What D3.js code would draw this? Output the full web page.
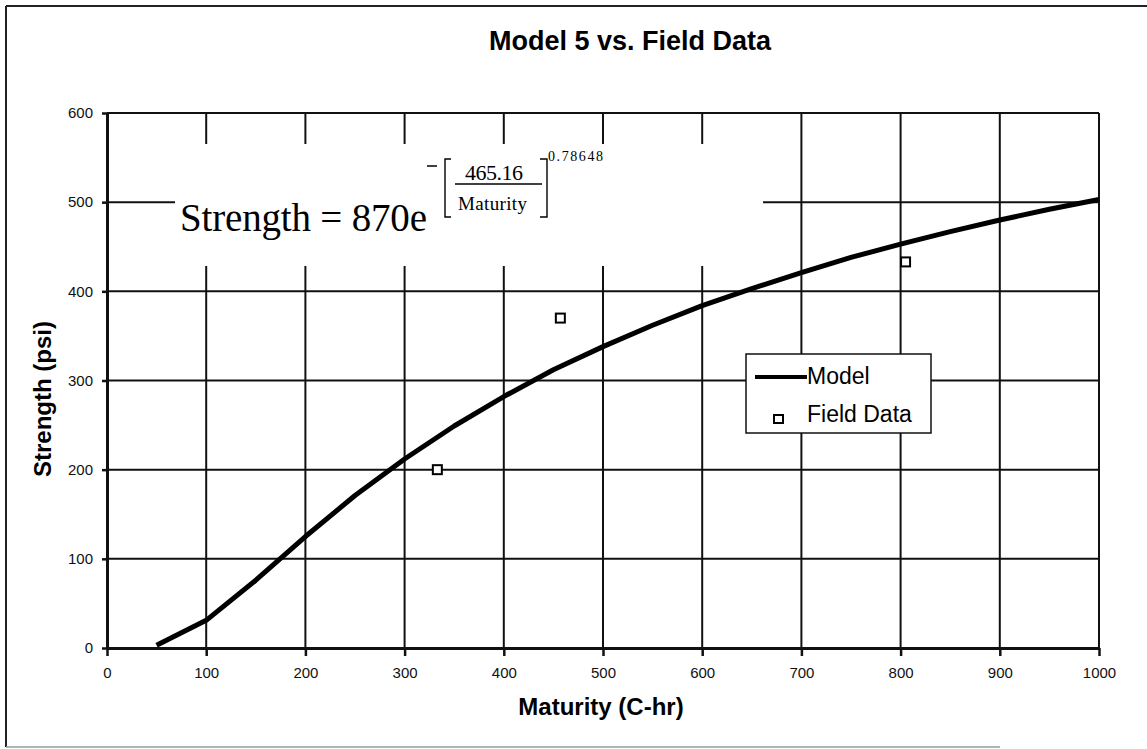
<!DOCTYPE html>
<html>
<head>
<meta charset="utf-8">
<script src="https://cdn.jsdelivr.net/npm/d3@7"></script>
<style>
  body { margin: 0; background: #fff; }
  svg { display: block; }
</style>
</head>
<body>
<div class="chart"></div>
<script>
// model curve, every 50 C-hr
var modelMaturity = [50, 100, 150, 200, 250, 300, 350, 400, 450, 500, 550, 600, 650, 700, 750, 800, 850, 900, 950, 1000];
var modelStrength = [3, 31, 76, 125, 171, 212, 249, 282, 312, 338, 362, 384, 403, 421, 438, 453, 467, 480, 492, 503];

// field measurements
var fieldMaturity = [333, 457, 805];
var fieldStrength = [200, 370, 433];

var xTicks = [0, 100, 200, 300, 400, 500, 600, 700, 800, 900, 1000];
var yTicks = [0, 100, 200, 300, 400, 500, 600];

var W = 1147, H = 749;
var plot = {left: 107, top: 113, right: 1099, bottom: 648};
var sans = `Arial, "Liberation Sans", sans-serif`;
var serif = `"Times New Roman", "Liberation Serif", serif`;

var svg = d3.select(`.chart`)
    .append(`svg`)
    .attr(`width`, W)
    .attr(`height`, H);

svg.append(`rect`).attr(`width`, W).attr(`height`, H).attr(`fill`, `#fff`);

// outer chart frame (right side is cut off in the scan)
svg.append(`line`).attr(`x1`, 6).attr(`y1`, 6).attr(`x2`, W).attr(`y2`, 6)
    .attr(`stroke`, `#222`).attr(`stroke-width`, 2);
svg.append(`line`).attr(`x1`, 6).attr(`y1`, 6).attr(`x2`, 6).attr(`y2`, 747)
    .attr(`stroke`, `#222`).attr(`stroke-width`, 2);
svg.append(`line`).attr(`x1`, 6).attr(`y1`, 747).attr(`x2`, 1000).attr(`y2`, 747)
    .attr(`stroke`, `#999`).attr(`stroke-width`, 1.5);

var x = d3.scaleLinear().domain([0, 1000]).range([plot.left, plot.right]);
var y = d3.scaleLinear().domain([0, 600]).range([plot.bottom, plot.top]);

// gridlines
svg.append(`g`)
    .selectAll(`line`)
    .data(yTicks.filter(d => d > 0))
    .enter()
    .append(`line`)
    .attr(`x1`, plot.left).attr(`x2`, plot.right)
    .attr(`y1`, d => y(d)).attr(`y2`, d => y(d))
    .attr(`stroke`, `#111`).attr(`stroke-width`, 2);

svg.append(`g`)
    .selectAll(`line`)
    .data(xTicks.filter(d => d > 0))
    .enter()
    .append(`line`)
    .attr(`y1`, plot.top).attr(`y2`, plot.bottom)
    .attr(`x1`, d => x(d)).attr(`x2`, d => x(d))
    .attr(`stroke`, `#111`).attr(`stroke-width`, 2);

// white box behind the equation
svg.append(`rect`)
    .attr(`x`, 175).attr(`y`, 144)
    .attr(`width`, 588).attr(`height`, 122)
    .attr(`fill`, `#fff`);

// axes
var xAxis = d3.axisBottom(x).tickValues(xTicks).tickFormat(d3.format(`d`))
    .tickSize(8).tickSizeOuter(0).tickPadding(11);
var yAxis = d3.axisLeft(y).tickValues(yTicks).tickFormat(d3.format(`d`))
    .tickSize(5).tickSizeOuter(0).tickPadding(9);

var gx = svg.append(`g`)
    .attr(`transform`, `translate(0, ${plot.bottom})`)
    .call(xAxis);
var gy = svg.append(`g`)
    .attr(`transform`, `translate(${plot.left}, 0)`)
    .call(yAxis);

[gx, gy].forEach(g => {
    g.select(`.domain`).attr(`stroke`, `#111`).attr(`stroke-width`, 3);
    g.selectAll(`.tick line`).attr(`stroke`, `#111`).attr(`stroke-width`, 2.5);
    g.selectAll(`.tick text`)
        .attr(`fill`, `#111`)
        .style(`font-family`, sans)
        .style(`font-size`, `15px`);
});

// model line
var line = d3.line()
    .x(d => x(d[0]))
    .y(d => y(d[1]));

svg.append(`path`)
    .datum(d3.zip(modelMaturity, modelStrength))
    .attr(`d`, line)
    .attr(`fill`, `none`)
    .attr(`stroke`, `#000`)
    .attr(`stroke-width`, 5)
    .attr(`stroke-linejoin`, `round`);

// field data markers
svg.selectAll(`.field`)
    .data(d3.zip(fieldMaturity, fieldStrength))
    .enter()
    .append(`rect`)
    .attr(`class`, `field`)
    .attr(`x`, d => x(d[0]) - 4.5)
    .attr(`y`, d => y(d[1]) - 4.5)
    .attr(`width`, 9).attr(`height`, 9)
    .attr(`fill`, `#fff`)
    .attr(`stroke`, `#000`)
    .attr(`stroke-width`, 2);

// titles
svg.append(`text`)
    .attr(`x`, 630).attr(`y`, 50)
    .attr(`text-anchor`, `middle`)
    .style(`font-family`, sans)
    .style(`font-weight`, `bold`)
    .style(`font-size`, `27px`)
    .text(`Model 5 vs. Field Data`);

svg.append(`text`)
    .attr(`x`, 601).attr(`y`, 715)
    .attr(`text-anchor`, `middle`)
    .style(`font-family`, sans)
    .style(`font-weight`, `bold`)
    .style(`font-size`, `24px`)
    .text(`Maturity (C-hr)`);

svg.append(`text`)
    .attr(`transform`, `translate(51, 399) rotate(-90)`)
    .attr(`text-anchor`, `middle`)
    .style(`font-family`, sans)
    .style(`font-weight`, `bold`)
    .style(`font-size`, `24px`)
    .text(`Strength (psi)`);

// equation
var eq = svg.append(`g`)
    .style(`font-family`, serif)
    .attr(`fill`, `#000`);

eq.append(`text`)
    .attr(`x`, 180).attr(`y`, 231)
    .style(`font-size`, `39px`)
    .attr(`textLength`, 247)
    .text(`Strength = 870e`);

eq.append(`line`).attr(`x1`, 427).attr(`x2`, 437).attr(`y1`, 166).attr(`y2`, 166)
    .attr(`stroke`, `#000`).attr(`stroke-width`, 1.5);
// brackets
eq.append(`path`)
    .attr(`d`, `M451,159 H445 V217 H451`)
    .attr(`fill`, `none`).attr(`stroke`, `#000`).attr(`stroke-width`, 1.4);
eq.append(`path`)
    .attr(`d`, `M540,159 H547 V217 H540`)
    .attr(`fill`, `none`).attr(`stroke`, `#000`).attr(`stroke-width`, 1.4);
eq.append(`text`)
    .attr(`x`, 465).attr(`y`, 180)
    .attr(`textLength`, 58)
    .style(`font-size`, `22px`)
    .text(`465.16`);
eq.append(`line`).attr(`x1`, 455).attr(`x2`, 542).attr(`y1`, 184).attr(`y2`, 184)
    .attr(`stroke`, `#000`).attr(`stroke-width`, 1.6);
eq.append(`text`)
    .attr(`x`, 458).attr(`y`, 210)
    .attr(`textLength`, 69)
    .style(`font-size`, `19px`)
    .text(`Maturity`);
eq.append(`text`)
    .attr(`x`, 548).attr(`y`, 161)
    .attr(`textLength`, 55)
    .style(`font-size`, `14px`)
    .text(`0.78648`);

// legend
var lg = svg.append(`g`).attr(`transform`, `translate(746, 354)`);
lg.append(`rect`)
    .attr(`width`, 185).attr(`height`, 79)
    .attr(`fill`, `#fff`)
    .attr(`stroke`, `#111`)
    .attr(`stroke-width`, 1.5);
lg.append(`line`)
    .attr(`x1`, 9).attr(`x2`, 61).attr(`y1`, 23).attr(`y2`, 23)
    .attr(`stroke`, `#000`).attr(`stroke-width`, 4);
lg.append(`rect`)
    .attr(`x`, 28).attr(`y`, 61).attr(`width`, 9).attr(`height`, 8)
    .attr(`fill`, `#fff`).attr(`stroke`, `#000`).attr(`stroke-width`, 2);
lg.selectAll(`.lt`)
    .data([`Model`, `Field Data`])
    .enter()
    .append(`text`)
    .attr(`x`, 61)
    .attr(`y`, (d, i) => 30 + i * 38)
    .style(`font-family`, sans)
    .style(`font-size`, `23px`)
    .text(d => d);
</script>
</body>
</html>
